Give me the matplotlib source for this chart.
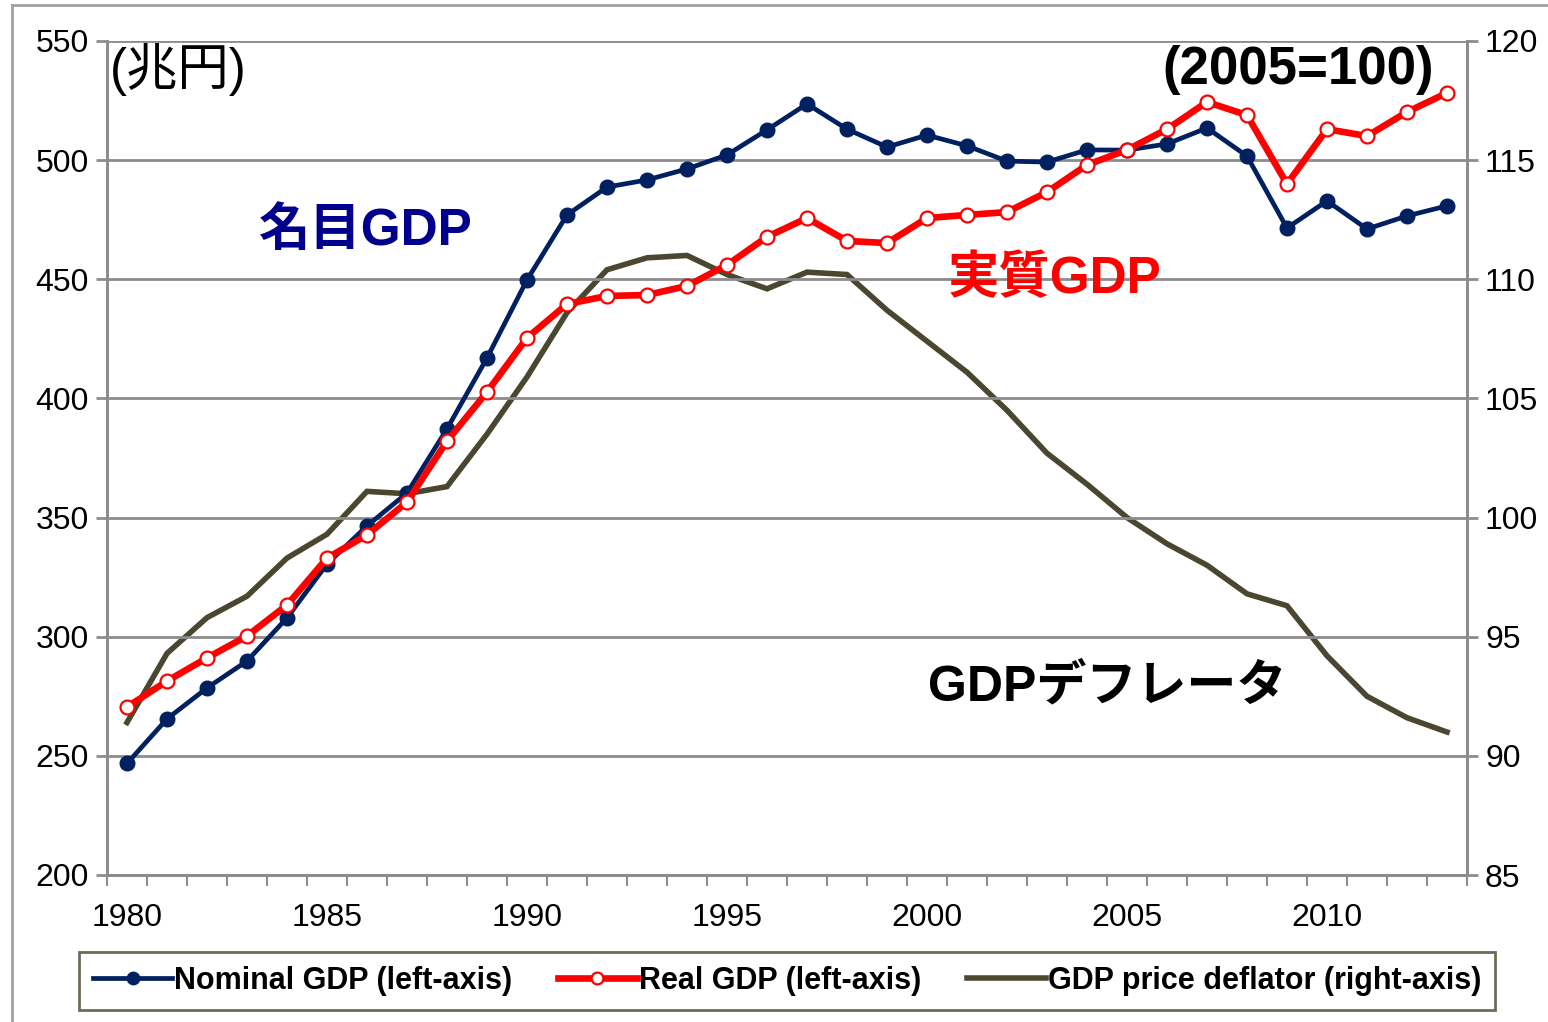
import matplotlib
matplotlib.use("Agg")
import matplotlib.pyplot as plt
from matplotlib.lines import Line2D
import numpy as np

plt.rcParams['font.family'] = ['Liberation Sans', 'Noto Sans CJK JP', 'DejaVu Sans']

years = list(range(1980, 2014))

# nominal GDP, trillion yen (left axis)
nominal_gdp = [246.8, 265.5, 278.5, 289.8, 307.9, 330.5, 346.5, 360.3, 387.2, 417.0,
               449.7, 477.0, 488.7, 491.7, 496.3, 502.2, 512.7, 523.6, 513.0, 505.5,
               510.5, 506.0, 499.6, 499.2, 504.3, 504.2, 506.8, 513.5, 501.7, 471.5,
               482.9, 471.1, 476.6, 480.8]

# real GDP, trillion yen (left axis)
real_gdp = [270.5, 281.4, 291.1, 300.3, 313.3, 333.0, 342.7, 356.5, 382.1, 402.7,
            425.4, 439.6, 443.0, 443.4, 447.2, 456.0, 467.8, 475.7, 466.1, 465.2,
            475.7, 477.0, 478.2, 486.6, 498.0, 504.3, 513.0, 524.4, 518.9, 490.0,
            513.0, 510.1, 520.2, 528.2]

# GDP deflator, 2005=100 (right axis)
deflator = [91.4, 94.3, 95.8, 96.7, 98.3, 99.3, 101.1, 101.0, 101.3, 103.5,
            105.9, 108.6, 110.4, 110.9, 111.0, 110.2, 109.6, 110.3, 110.2, 108.7,
            107.4, 106.1, 104.5, 102.7, 101.4, 100.0, 98.9, 98.0, 96.8, 96.3,
            94.2, 92.5, 91.6, 91.0]

left_ticks = [200, 250, 300, 350, 400, 450, 500, 550]
right_ticks = [85, 90, 95, 100, 105, 110, 115, 120]
year_labels = [1980, 1985, 1990, 1995, 2000, 2005, 2010]

navy = '#002060'
red = '#FF0000'
olive = '#4B4630'
grid_gray = '#8C8C8C'

fig = plt.figure(figsize=(15.48, 10.22), dpi=100)
ax = fig.add_axes([107/1548, 1 - 875/1022, (1467 - 107)/1548, (875 - 41)/1022])
ax2 = ax.twinx()

# outer chart frame (left and top edges visible)
fig.add_artist(Line2D([12/1548, 12/1548], [0, 1 - 5/1022], transform=fig.transFigure,
                      color='#A0A0A0', lw=2))
fig.add_artist(Line2D([12/1548, 1], [1 - 5/1022, 1 - 5/1022], transform=fig.transFigure,
                      color='#A0A0A0', lw=2))

ax.set_zorder(ax2.get_zorder() + 1)
ax.patch.set_visible(False)

ax2.plot(years, deflator, color=olive, lw=4.0, solid_joinstyle='miter',
         label='GDP price deflator (right-axis)')
ax.plot(years, nominal_gdp, color=navy, lw=3.4, marker='o', markersize=10.5,
        label='Nominal GDP (left-axis)')
ax.plot(years, real_gdp, color=red, lw=4.8, marker='o', markersize=10,
        markerfacecolor='white', markeredgecolor=red, markeredgewidth=1.6,
        label='Real GDP (left-axis)')

ax.set_xlim(1979.5, 2013.5)
ax.set_ylim(200, 550)
ax2.set_ylim(85, 120)

ax.set_yticks(left_ticks)
ax2.set_yticks(right_ticks)
ax.set_xticks(year_labels)
ax.set_xticks(np.arange(1979.5, 2014, 1.0), minor=True)

ax.grid(axis='y', color=grid_gray, lw=2)
ax.set_axisbelow(True)

for a in (ax, ax2):
    for s in a.spines.values():
        s.set_color(grid_gray)
        s.set_linewidth(2)
    a.spines['top'].set_visible(False)

ax.tick_params(axis='y', which='major', length=8, width=2, color=grid_gray,
               labelsize=23, pad=5)
ax2.tick_params(axis='y', which='major', length=8, width=2, color=grid_gray,
                labelsize=23, pad=5)
ax.tick_params(axis='x', which='major', length=0, labelsize=23, pad=20)
ax.tick_params(axis='x', which='minor', length=8, width=1.5, color=grid_gray)

# annotations
ax.text(0.002, 0.998, '(兆円)', transform=ax.transAxes, fontsize=37,
        ha='left', va='top', color='black')
ax.text(0.976, 0.995, '(2005=100)', transform=ax.transAxes, fontsize=38,
        fontweight='bold', ha='right', va='top', color='black')
ax.text(1985.97, 470, '名目GDP', fontsize=37, fontweight='bold', color='#00008C',
        ha='center', va='center')
ax.text(2003.2, 450, '実質GDP', fontsize=37, fontweight='bold', color=red,
        ha='center', va='center')
ax.text(2004.5, 279, 'GDPデフレータ', fontsize=36, fontweight='bold', color='black',
        ha='center', va='center')

h1, l1 = ax.get_legend_handles_labels()
h2, l2 = ax2.get_legend_handles_labels()
leg = fig.legend(h1 + h2, l1 + l2, loc='center', ncol=3,
                 bbox_to_anchor=(787/1548, 1 - 981/1022),
                 prop={'weight': 'bold', 'size': 22}, frameon=True, fancybox=False,
                 handlelength=2.6, handletextpad=0.05, columnspacing=1.5,
                 borderpad=0.45, markerscale=0.85)
leg.get_frame().set_edgecolor(olive)
leg.get_frame().set_linewidth(2)

fig.savefig('out.png', dpi=100, facecolor='white')
